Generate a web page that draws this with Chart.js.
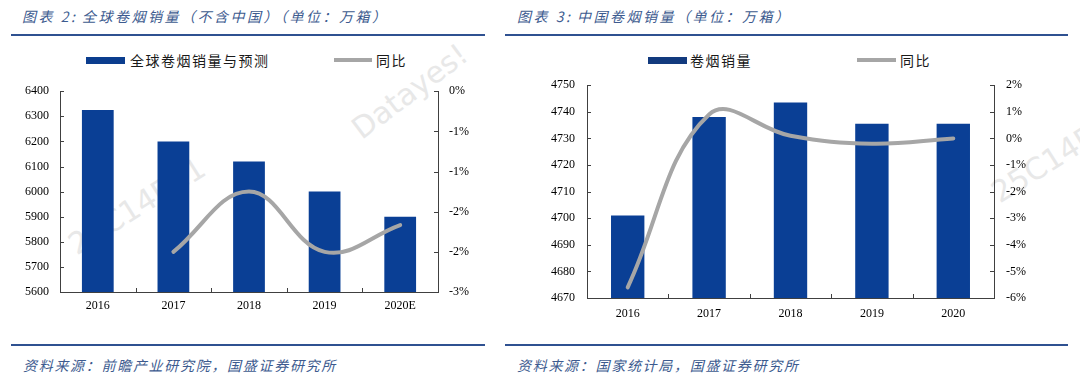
<!DOCTYPE html>
<html>
<head>
<meta charset="utf-8">
<script src="https://cdn.jsdelivr.net/npm/chart.js@4.4.1/dist/chart.umd.min.js"></script>
<style>
  html,body{margin:0;padding:0;}
  body{width:1080px;height:378px;background:#fff;position:relative;overflow:hidden;font-family:"Noto Sans CJK SC","Noto Sans",sans-serif;}
  .abs{position:absolute;white-space:nowrap;}
  .title{font-style:italic;color:#3d5b8f;font-size:14px;letter-spacing:2.5px;line-height:20px;}
  .src{font-style:italic;color:#3d5b8f;font-size:14px;letter-spacing:1.7px;line-height:20px;}
  .rule{height:2px;background:#2f5191;}
  .lg{font-size:14px;letter-spacing:1.5px;color:#1a1a1a;line-height:20px;}
  .wm{color:#e8e8e8;font-family:"DejaVu Sans",sans-serif;transform-origin:0 0;}
  canvas{position:absolute;}
</style>
</head>
<body>
<script>
// ---------- data: left chart (global, excl. China) ----------
const globalCategories = ['2016', '2017', '2018', '2019', '2020E'];
const globalSales = [6325, 6200, 6120, 6000, 5900];          // 万箱
const globalYoY = [null, -2.4, -1.5, -2.4, -2.0];            // %
const globalSalesTicks = {min: 5600, max: 6400, step: 100};
const globalYoYTicks = {min: -3, max: 0, step: 0.6};

// ---------- data: right chart (China) ----------
const chinaCategories = ['2016', '2017', '2018', '2019', '2020'];
const chinaSales = [4701, 4738, 4743.5, 4735.5, 4735.5];     // 万箱
const chinaYoY = [-5.6, 0.9, 0.1, -0.2, 0.0];                // %
const chinaSalesTicks = {min: 4670, max: 4750, step: 10};
const chinaYoYTicks = {min: -6, max: 2, step: 1};

// ---------- texts ----------
const leftTitle = ['图表 2:', '全球卷烟销量（不含中国）（单位：万箱）'];
const rightTitle = ['图表 3:', '中国卷烟销量（单位：万箱）'];
const leftLegend = ['全球卷烟销量与预测', '同比'];
const rightLegend = ['卷烟销量', '同比'];
const leftSource = '资料来源：前瞻产业研究院，国盛证券研究所';
const rightSource = '资料来源：国家统计局，国盛证券研究所';
</script>

<!-- watermarks (behind charts) -->
<div class="abs wm" style="left:345px;top:118px;font-size:30px;transform:rotate(-37deg);">Datayes!</div>
<div class="abs wm" style="left:62px;top:232px;font-size:30px;transform:rotate(-32deg);">25C14FC1</div>
<div class="abs wm" style="left:985px;top:180px;font-size:30px;transform:rotate(-32deg);">25C14FC1</div>

<!-- titles -->
<div class="abs title" id="t1a" style="left:22px;top:6px;"></div>
<div class="abs title" id="t1b" style="left:82px;top:6px;"></div>
<div class="abs rule" style="left:11px;top:34px;width:474px;"></div>
<div class="abs title" id="t2a" style="left:517px;top:6px;"></div>
<div class="abs title" id="t2b" style="left:577px;top:6px;"></div>
<div class="abs rule" style="left:505px;top:34px;width:563px;"></div>

<!-- legends -->
<div class="abs" style="left:86px;top:57px;width:39px;height:7px;background:#0b3d8e;"></div>
<div class="abs lg" id="lg1a" style="left:130px;top:50px;"></div>
<div class="abs" style="left:334px;top:58px;width:38px;height:4px;background:#a6a6a6;"></div>
<div class="abs lg" id="lg1b" style="left:376px;top:50px;"></div>

<div class="abs" style="left:648px;top:57px;width:39px;height:7px;background:#123a7e;"></div>
<div class="abs lg" id="lg2a" style="left:690px;top:50px;"></div>
<div class="abs" style="left:857px;top:58px;width:39px;height:4px;background:#a6a6a6;"></div>
<div class="abs lg" id="lg2b" style="left:900px;top:50px;"></div>

<canvas id="c1" width="486" height="247" style="left:0px;top:73px;"></canvas>
<canvas id="c2" width="575" height="254" style="left:505px;top:66px;"></canvas>

<!-- footers -->
<div class="abs rule" style="left:11px;top:344px;width:474px;"></div>
<div class="abs src" id="s1" style="left:23px;top:355px;"></div>
<div class="abs rule" style="left:505px;top:344px;width:563px;"></div>
<div class="abs src" id="s2" style="left:517px;top:355px;"></div>

<script>
document.getElementById('t1a').textContent = leftTitle[0];
document.getElementById('t1b').textContent = leftTitle[1];
document.getElementById('t2a').textContent = rightTitle[0];
document.getElementById('t2b').textContent = rightTitle[1];
document.getElementById('lg1a').textContent = leftLegend[0];
document.getElementById('lg1b').textContent = leftLegend[1];
document.getElementById('lg2a').textContent = rightLegend[0];
document.getElementById('lg2b').textContent = rightLegend[1];
document.getElementById('s1').textContent = leftSource;
document.getElementById('s2').textContent = rightSource;

const AXIS = '#404040';
const BAR = '#0a3f95';
const LINE = '#a6a6a6';
const TICKFONT = {family: '"Liberation Serif","Times New Roman",serif', size: 12};

const innerTicks = {
  id: 'innerTicks',
  afterDraw(chart) {
    const ctx = chart.ctx, a = chart.chartArea;
    const {x, y, y1} = chart.scales;
    ctx.save();
    ctx.strokeStyle = AXIS;
    ctx.lineWidth = 1;
    const seg = (x0, y0, x1, y1_) => { ctx.beginPath(); ctx.moveTo(x0, y0); ctx.lineTo(x1, y1_); ctx.stroke(); };
    y.ticks.forEach((t, i) => { const p = Math.round(y.getPixelForTick(i)) + 0.5; seg(a.left, p, a.left + 4, p); });
    y1.ticks.forEach((t, i) => { const p = Math.round(y1.getPixelForTick(i)) + 0.5; seg(a.right - 4, p, a.right, p); });
    for (let i = 1; i < x.ticks.length; i++) {
      const p = Math.round((x.getPixelForTick(i - 1) + x.getPixelForTick(i)) / 2) + 0.5;
      seg(p, a.bottom - 4, p, a.bottom);
    }
    ctx.restore();
  }
};

function makeChart(id, cats, sales, yoy, st, yt, geom) {
  return new Chart(document.getElementById(id), {
    data: {
      labels: cats,
      datasets: [
        {type: 'line', data: yoy, yAxisID: 'y1', borderColor: LINE, borderWidth: 4,
         tension: 0.4, pointRadius: 0, pointHoverRadius: 0, borderCapStyle: 'round', order: 0, spanGaps: false},
        {type: 'bar', data: sales, yAxisID: 'y', backgroundColor: BAR,
         barPercentage: geom.barPct, categoryPercentage: 1, order: 1}
      ]
    },
    options: {
      responsive: false,
      animation: false,
      events: [],
      layout: {padding: {top: geom.top, left: 0, right: 0, bottom: 0}},
      plugins: {legend: {display: false}, tooltip: {enabled: false}},
      scales: {
        x: {
          offset: true,
          grid: {display: false, drawTicks: false},
          border: {display: true, color: AXIS, width: 1},
          ticks: {font: TICKFONT, color: '#000', padding: geom.xPad, maxRotation: 0},
          afterFit: s => { s.height = geom.xH; }
        },
        y: {
          position: 'left', min: st.min, max: st.max,
          grid: {display: false, drawTicks: false},
          border: {display: true, color: AXIS, width: 1},
          ticks: {stepSize: st.step, font: TICKFONT, color: '#000', padding: geom.yPad,
                  callback: v => String(Math.round(v))},
          afterFit: s => { s.width = geom.yW; }
        },
        y1: {
          position: 'right', min: yt.min, max: yt.max,
          grid: {display: false, drawTicks: false},
          border: {display: true, color: AXIS, width: 1},
          ticks: {stepSize: yt.step, font: TICKFONT, color: '#000', padding: geom.y1Pad,
                  callback: v => Number(v).toFixed(0).replace(/^-0$/, '0') + '%'},
          afterFit: s => { s.width = geom.y1W; }
        }
      }
    },
    plugins: [innerTicks]
  });
}

makeChart('c1', globalCategories, globalSales, globalYoY, globalSalesTicks, globalYoYTicks,
  {top: 3, xH: 28, yW: 60, y1W: 48, xPad: 7, yPad: 11, y1Pad: 11, barPct: 0.42});
makeChart('c2', chinaCategories, chinaSales, chinaYoY, chinaSalesTicks, chinaYoYTicks,
  {top: 0, xH: 22, yW: 82, y1W: 86, xPad: 9, yPad: 12, y1Pad: 12, barPct: 0.41});
</script>
</body>
</html>
